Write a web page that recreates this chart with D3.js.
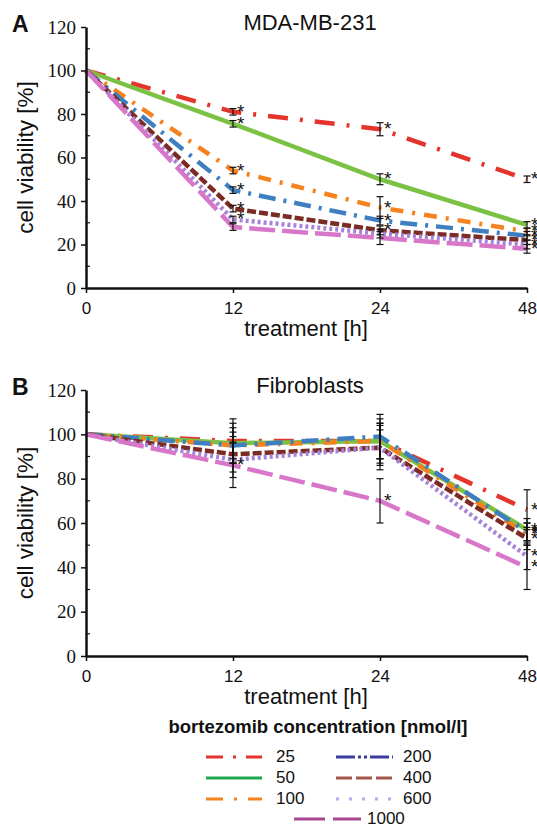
<!DOCTYPE html>
<html>
<head>
<meta charset="utf-8">
<script src="https://cdn.jsdelivr.net/npm/d3@7/dist/d3.min.js"></script>
<style>
	body { margin: 0; background: #fff; }
	svg { display: block; }
	.serif-ticks text { font-family: "Liberation Serif", "Times New Roman", serif; }
</style>
</head>
<body>
<div id="chart"></div>
<script>
// data
const hours = ["0", "12", "24", "48"];
const concentrations = ["25", "50", "100", "200", "400", "600", "1000"];

// MDA-MB-231 cell viability [%] per concentration, at 0/12/24/48 h
const mdaValues = [
	[100, 81, 73, 50],
	[100, 75.5, 50, 29],
	[100, 54, 37, 26],
	[100, 45, 31, 24],
	[100, 36.5, 26.5, 22],
	[100, 31.5, 25, 20],
	[100, 28, 23, 18],
];
const mdaErrors = [
	[0, 1.5, 3, 1.5],
	[0, 1.5, 2.5, 1.5],
	[0, 1.5, 5, 1.5],
	[0, 1.5, 2, 2],
	[0, 1.5, 2, 2],
	[0, 1.5, 2, 2],
	[0, 1.5, 3, 2],
];
// time indexes with a significance star
const mdaStars = [[1, 2, 3], [1, 2, 3], [1, 2, 3], [1, 2, 3], [1, 2, 3], [1, 3], [3]];

// Fibroblasts
const fibroValues = [
	[100, 97, 97, 66],
	[100, 96, 97, 57],
	[100, 95, 97, 55],
	[100, 95, 99, 56],
	[100, 91, 94, 53],
	[100, 88.5, 94, 45],
	[100, 86, 70, 40],
];
const fibroErrors = [
	[0, 10, 8, 9],
	[0, 9, 10, 5],
	[0, 8, 8, 5],
	[0, 6, 10, 4],
	[0, 8, 10, 5],
	[0, 8, 8, 6],
	[0, 10, 10, 10],
];
const fibroStars = [[3], [3], [3], [3], [3], [3], [1, 2, 3]];

const yTicks = [0, 20, 40, 60, 80, 100, 120];
const yMinorTicks = [10, 30, 50, 70, 90, 110];

// styles
const colors = ["#e4342b", "#7bc244", "#f5821f", "#3d7fc1", "#7b2b24", "#a683d8", "#d877ca"];
const dashes = ["20,12,3,12", null, "13,9,3,9", "17,8,3,8", "9,3", "3,3", "26,7"];
const legendColors = ["#e4342b", "#1ea84e", "#f5821f", "#3c3c9e", "#a3564c", "#b4a8f0", "#a8478f"];
const legendDashes = ["17,10,3,10", null, "17,11,3,11", "19,3,3,3,3,3", "16,4", "3,10", "31,8"];

const width = 537;
const height = 828;
const left = 86;
const right = 527;

const svg = d3
	.select("#chart")
	.append("svg")
	.attr("width", width)
	.attr("height", height)
	.style("font-family", "'Liberation Sans', Arial, sans-serif");

function drawPanel(opts) {
	const x = d3.scalePoint().domain(hours).range([left, right]);
	const y = d3.scaleLinear().domain([0, 120]).range([opts.bottom, opts.top]);

	const g = svg.append("g");

	// series lines
	const line = d3
		.line()
		.x((d, i) => x(hours[i]))
		.y((d) => y(d));

	opts.values.forEach((vals, s) => {
		g.append("path")
			.datum(vals)
			.attr("d", line)
			.attr("fill", "none")
			.attr("stroke", colors[s])
			.attr("stroke-width", 4.5)
			.attr("stroke-dasharray", dashes[s]);
	});

	// error bars
	opts.values.forEach((vals, s) => {
		vals.forEach((v, i) => {
			const e = opts.errors[s][i];
			if (!e) return;
			const cx = x(hours[i]);
			g.append("line")
				.attr("x1", cx)
				.attr("x2", cx)
				.attr("y1", y(v - e))
				.attr("y2", y(v + e))
				.attr("stroke", "#111")
				.attr("stroke-width", 1.2);
			[v - e, v + e].forEach((c) => {
				g.append("line")
					.attr("x1", cx - 3.5)
					.attr("x2", cx + 3.5)
					.attr("y1", y(c))
					.attr("y2", y(c))
					.attr("stroke", "#111")
					.attr("stroke-width", 1.2);
			});
		});
	});

	// significance stars
	opts.stars.forEach((idx, s) => {
		idx.forEach((i) => {
			g.append("text")
				.attr("x", x(hours[i]) + 4)
				.attr("y", y(opts.values[s][i]) + 6)
				.style("font-size", "19px")
				.style("fill", "#111")
				.text("*");
		});
	});

	// axes
	const yAxis = g
		.append("g")
		.attr("class", "serif-ticks")
		.attr("transform", `translate(${left}, 0)`)
		.call(d3.axisLeft(y).tickValues(yTicks).tickSize(5).tickSizeOuter(0).tickPadding(5));
	yAxis
		.attr("font-family", null)
		.selectAll("text")
		.style("font-size", "19px")
		.style("fill", "#111");

	const xAxis = g
		.append("g")
		.attr("transform", `translate(0, ${opts.bottom})`)
		.call(d3.axisBottom(x).tickSize(5).tickSizeOuter(0).tickPadding(9));
	xAxis
		.attr("font-family", null)
		.selectAll("text")
		.style("font-size", "17px")
		.style("fill", "#111");

	[yAxis, xAxis].forEach((a) => {
		a.select(".domain").attr("stroke", "#111").attr("stroke-width", 2.5);
		a.selectAll(".tick line").attr("stroke", "#111").attr("stroke-width", 1.5);
	});

	yMinorTicks.forEach((t) => {
		g.append("line")
			.attr("x1", left)
			.attr("x2", left + 4)
			.attr("y1", y(t))
			.attr("y2", y(t))
			.attr("stroke", "#111")
			.attr("stroke-width", 1.2);
	});

	// labels
	g.append("text")
		.attr("x", 310)
		.attr("y", opts.top + 3)
		.style("text-anchor", "middle")
		.style("font-size", "22px")
		.style("fill", "#111")
		.text(opts.title);

	g.append("text")
		.attr("x", 12)
		.attr("y", opts.top + 5)
		.style("font-size", "23px")
		.style("font-weight", "bold")
		.style("fill", "#111")
		.text(opts.letter);

	g.append("text")
		.attr("transform", `translate(33, ${(opts.top + opts.bottom) / 2}) rotate(-90)`)
		.style("text-anchor", "middle")
		.style("font-size", "22.5px")
		.style("fill", "#111")
		.text("cell viability [%]");

	g.append("text")
		.attr("x", 306)
		.attr("y", opts.bottom + 48)
		.style("text-anchor", "middle")
		.style("font-size", "22px")
		.style("fill", "#111")
		.text("treatment [h]");
}

drawPanel({
	top: 27,
	bottom: 288,
	title: "MDA-MB-231",
	letter: "A",
	values: mdaValues,
	errors: mdaErrors,
	stars: mdaStars,
});

drawPanel({
	top: 390,
	bottom: 656,
	title: "Fibroblasts",
	letter: "B",
	values: fibroValues,
	errors: fibroErrors,
	stars: fibroStars,
});

// legend
const legend = svg.append("g");

legend
	.append("text")
	.attr("x", 318)
	.attr("y", 733)
	.style("text-anchor", "middle")
	.style("font-size", "18.5px")
	.style("font-weight", "bold")
	.style("fill", "#111")
	.text("bortezomib concentration [nmol/l]");

const rowY = [757, 778, 799, 819];

concentrations.forEach((c, i) => {
	let x0, x1, lx, ly;
	if (i < 3) {
		x0 = 206; x1 = 262; lx = 276; ly = rowY[i];
	} else if (i < 6) {
		x0 = 336; x1 = 393; lx = 403; ly = rowY[i - 3];
	} else {
		x0 = 294; x1 = 361; lx = 367; ly = rowY[3];
	}
	legend
		.append("line")
		.attr("x1", x0)
		.attr("x2", x1)
		.attr("y1", ly)
		.attr("y2", ly)
		.attr("stroke", legendColors[i])
		.attr("stroke-width", 3)
		.attr("stroke-dasharray", legendDashes[i]);
	legend
		.append("text")
		.attr("x", lx)
		.attr("y", ly + 5)
		.style("font-size", "17px")
		.style("fill", "#111")
		.text(c);
});
</script>
</body>
</html>
